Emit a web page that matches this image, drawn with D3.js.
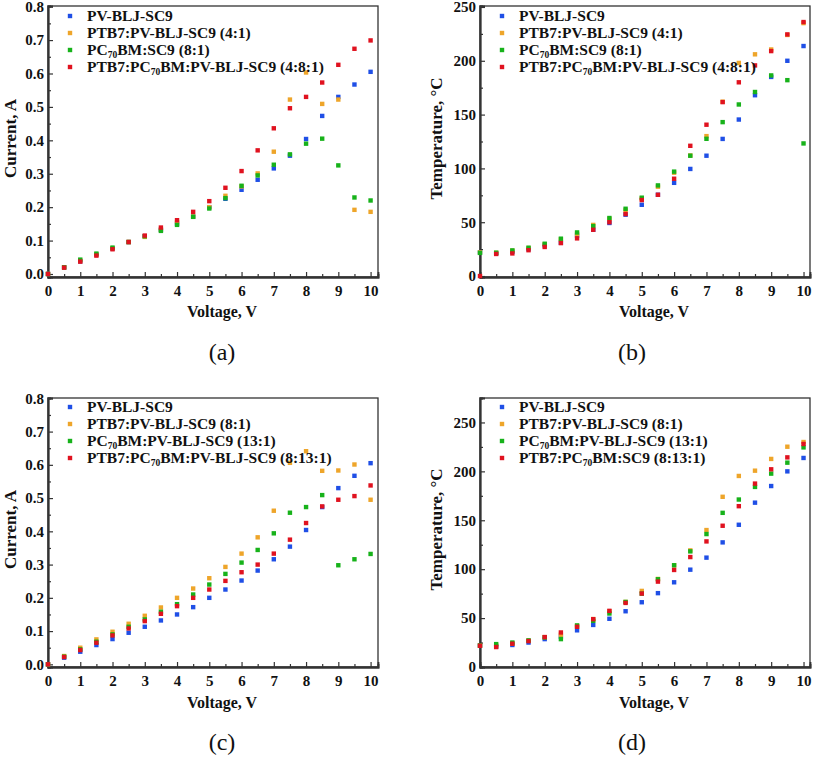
<!DOCTYPE html>
<html>
<head>
<meta charset="utf-8">
<script src="https://cdn.jsdelivr.net/npm/d3@7"></script>
</head>
<body style="margin:0;background:#fff">
<svg id="chart" width="813" height="761" font-family="Liberation Serif, Times New Roman" style="display:block"></svg>
<script>
// ---------- DATA ----------
const voltage = [0,0.5,1,1.5,2,2.5,3,3.5,4,4.5,5,5.5,6,6.5,7,7.5,8,8.5,9,9.5,10];

// shared reference series PV-BLJ-SC9
const pvCurrent = [0,0.020,0.038,0.058,0.076,0.095,0.113,0.132,0.150,0.172,0.200,0.225,0.252,0.282,0.316,0.354,0.404,0.473,0.530,0.567,0.605];
const pvTemp    = [22,21,22.5,25,28.5,31,37.5,43,49.3,57,66.2,75.5,86.6,99.5,111.8,127.4,145.4,168,185,200,213.7];

// panel (a) current
const aOrange = [0,0.020,0.040,0.058,0.077,0.095,0.111,0.133,0.155,0.172,0.200,0.234,0.262,0.301,0.366,0.522,0.603,0.509,0.522,0.192,0.186];
const aGreen  = [0,0.020,0.043,0.061,0.079,0.096,0.113,0.129,0.147,0.171,0.196,0.227,0.264,0.295,0.327,0.358,0.390,0.405,0.325,0.229,0.220];
const aRed    = [0,0.019,0.037,0.055,0.074,0.096,0.115,0.139,0.161,0.186,0.218,0.258,0.308,0.370,0.436,0.496,0.530,0.573,0.626,0.674,0.699];

// panel (b) temperature
const bOrange = [22,21.5,23.5,26,29.5,34,39,47.5,53,61,72,83,96,112,130,162,198,206,210.5,224,235];
const bGreen  = [21.5,21.7,23.8,26.3,30,34.7,40.5,46.4,53.9,62.5,72.8,84.2,97,111.8,127.5,143,159.4,171,186.4,182,123.2];
const bRed    = [0,20.5,21,24,27,30.6,35,43,50,57.6,70.6,75.5,90.4,121,140.6,161.6,180,195.7,209,224.5,236];

// panel (c) current
const cOrange = [0,0.025,0.050,0.075,0.098,0.122,0.146,0.171,0.200,0.228,0.259,0.293,0.333,0.382,0.462,0.606,0.641,0.582,0.583,0.601,0.495];
const cGreen  = [0,0.023,0.045,0.068,0.090,0.113,0.135,0.158,0.181,0.210,0.240,0.272,0.306,0.344,0.394,0.456,0.473,0.509,0.298,0.316,0.332];
const cRed    = [0,0.022,0.043,0.065,0.087,0.108,0.130,0.152,0.175,0.200,0.225,0.251,0.277,0.300,0.333,0.375,0.425,0.475,0.495,0.506,0.538];

// panel (d) temperature
const dOrange = [22,22,24,27,30.5,33,42,49,57,66.5,77.8,90,104,119.2,140,174,195.3,200.7,212.7,225.2,230];
const dGreen  = [22,23.4,25,27.2,30.2,28.5,42.5,47.2,54.7,66.5,75,89.7,104,118.2,135.9,157.6,171.2,184.1,197.7,208.9,224.5];
const dRed    = [21.7,20.4,23.8,26.5,30.6,35.3,41.1,48.9,57.4,65.5,75.1,87.3,99.2,112.4,128.4,144.4,164.4,187.5,202.1,214.3,228];

// legend labels ({..} = subscript)
const legendA = ["PV-BLJ-SC9","PTB7:PV-BLJ-SC9 (4:1)","PC{70}BM:SC9 (8:1)","PTB7:PC{70}BM:PV-BLJ-SC9 (4:8:1)"];
const legendB = legendA;
const legendC = ["PV-BLJ-SC9","PTB7:PV-BLJ-SC9 (8:1)","PC{70}BM:PV-BLJ-SC9 (13:1)","PTB7:PC{70}BM:PV-BLJ-SC9 (8:13:1)"];
const legendD = ["PV-BLJ-SC9","PTB7:PV-BLJ-SC9 (8:1)","PC{70}BM:PV-BLJ-SC9 (13:1)","PTB7:PC{70}BM:SC9 (8:13:1)"];

const xTicks = [0,1,2,3,4,5,6,7,8,9,10];
const currentTicks = [0,0.1,0.2,0.3,0.4,0.5,0.6,0.7,0.8];
const tempTicks = [0,50,100,150,200,250];
const panelLetters = ["(a)","(b)","(c)","(d)"];
const xTitle = "Voltage, V";
const yTitleCurrent = "Current, A";
const yTitleTemp = "Temperature, \u00B0C";

const colors = ["#1f4fe6","#eea52a","#17b21a","#e0121f"];
const FONT = "Liberation Serif, Times New Roman";

// ---------- DRAW ----------
const svg = d3.select("#chart");
svg.append("rect").attr("width", 813).attr("height", 761).attr("fill", "#fff");

const panels = [
  {series:[pvCurrent,aOrange,aGreen,aRed], legend:legendA, L:48, R:378, T:6, B:277,
   xDom:[0,10.23], yDom:[-0.009,0.802], yTicks:currentTicks, yMinorStep:0.05, yMax:0.8, fmt:d3.format(".1f"),
   yTitle:yTitleCurrent, yTitleX:16, letter:panelLetters[0], lx:222, ly:360, tx:222, ty:317, legX:70, legY:16},
  {series:[pvTemp,bOrange,bGreen,bRed], legend:legendB, L:480, R:810, T:6, B:277,
   xDom:[0,10.2], yDom:[-0.9,250.9], yTicks:tempTicks, yMinorStep:25, yMax:250, fmt:d3.format("d"),
   yTitle:yTitleTemp, yTitleX:442, letter:panelLetters[1], lx:632, ly:360, tx:654, ty:317, legX:502, legY:16},
  {series:[pvCurrent,cOrange,cGreen,cRed], legend:legendC, L:48, R:378, T:398, B:667,
   xDom:[0,10.23], yDom:[-0.008,0.801], yTicks:currentTicks, yMinorStep:0.05, yMax:0.8, fmt:d3.format(".1f"),
   yTitle:yTitleCurrent, yTitleX:16, letter:panelLetters[2], lx:222, ly:750, tx:222, ty:708, legX:70, legY:407},
  {series:[pvTemp,dOrange,dGreen,dRed], legend:legendD, L:480, R:810, T:398, B:667,
   xDom:[0,10.2], yDom:[0,275], yTicks:tempTicks, yMinorStep:25, yMax:275, fmt:d3.format("d"),
   yTitle:yTitleTemp, yTitleX:442, letter:panelLetters[3], lx:632, ly:750, tx:654, ty:708, legX:502, legY:407}
];

function addRich(sel, str) {
  const parts = str.split(/(\{[^}]*\})/).filter(s => s.length);
  let shifted = false;
  parts.forEach(p => {
    if (p.startsWith("{")) {
      sel.append("tspan").attr("font-size", 9.5).attr("dy", 3).text(p.slice(1,-1));
      shifted = true;
    } else {
      const t = sel.append("tspan").text(p);
      if (shifted) { t.attr("dy", -3); shifted = false; }
    }
  });
}

panels.forEach(p => {
  const x = d3.scaleLinear().domain(p.xDom).range([p.L, p.R]);
  const y = d3.scaleLinear().domain(p.yDom).range([p.B, p.T]);
  const g = svg.append("g");

  g.append("rect").attr("x", p.L).attr("y", p.T).attr("width", p.R - p.L).attr("height", p.B - p.T)
    .attr("fill", "none").attr("stroke", "#333").attr("stroke-width", 1.3);

  const xAx = g.append("g").attr("transform", `translate(0,${p.B})`)
    .call(d3.axisBottom(x).tickValues(xTicks).tickSize(-5).tickPadding(8).tickFormat(d3.format("d")));
  const xMinor = d3.range(0.5, 10, 1);
  g.append("g").attr("transform", `translate(0,${p.B})`)
    .call(d3.axisBottom(x).tickValues(xMinor).tickSize(-3).tickFormat(""));
  g.append("g").attr("transform", `translate(${p.L},0)`)
    .call(d3.axisLeft(y).tickValues(p.yTicks).tickSize(-5).tickPadding(4).tickFormat(p.fmt));
  const yMinor = d3.range(p.yMinorStep, p.yMax + 1e-9, p.yMinorStep * 2).map(v => +v.toFixed(4));
  g.append("g").attr("transform", `translate(${p.L},0)`)
    .call(d3.axisLeft(y).tickValues(yMinor).tickSize(-3).tickFormat(""));

  g.selectAll("g").attr("font-family", FONT);
  g.selectAll(".domain").attr("stroke", "#333").attr("stroke-width", 1.8);
  g.selectAll(".tick line").attr("stroke", "#333").attr("stroke-width", 1.2);
  g.selectAll(".tick text").attr("font-family", FONT)
    .attr("font-weight", "bold").attr("font-size", 15).attr("fill", "#111");
  xAx.selectAll(".tick text").attr("dy", "0.75em");

  p.series.forEach((vals, si) => {
    g.append("g").selectAll("rect").data(vals).join("rect")
      .attr("x", (d, i) => x(voltage[i]) - 2.2)
      .attr("y", d => y(d) - 2.2)
      .attr("width", 4.4).attr("height", 4.4)
      .attr("fill", colors[si]);
  });

  p.legend.forEach((lab, i) => {
    const yy = p.legY + i * 17;
    g.append("rect").attr("x", p.legX - 2.2).attr("y", yy - 2.2).attr("width", 4.4).attr("height", 4.4)
      .attr("fill", colors[i]);
    const t = g.append("text").attr("x", p.legX + 17).attr("y", yy + 5)
      .attr("font-family", FONT).attr("font-weight", "bold").attr("font-size", 15.5).attr("fill", "#111");
    addRich(t, lab);
  });

  g.append("text").attr("x", p.tx).attr("y", p.ty).attr("text-anchor", "middle")
    .attr("font-family", FONT).attr("font-weight", "bold").attr("font-size", 16).attr("fill", "#111").text(xTitle);
  const cy = (p.T + p.B) / 2 - 3;
  g.append("text").attr("transform", `translate(${p.yTitleX},${cy}) rotate(-90)`)
    .attr("text-anchor", "middle").attr("font-family", FONT).attr("font-weight", "bold").attr("font-size", 17)
    .attr("fill", "#111").text(p.yTitle);

  g.append("text").attr("x", p.lx).attr("y", p.ly).attr("text-anchor", "middle")
    .attr("font-family", FONT).attr("font-size", 24).attr("fill", "#111").text(p.letter);
});
</script>
</body>
</html>
